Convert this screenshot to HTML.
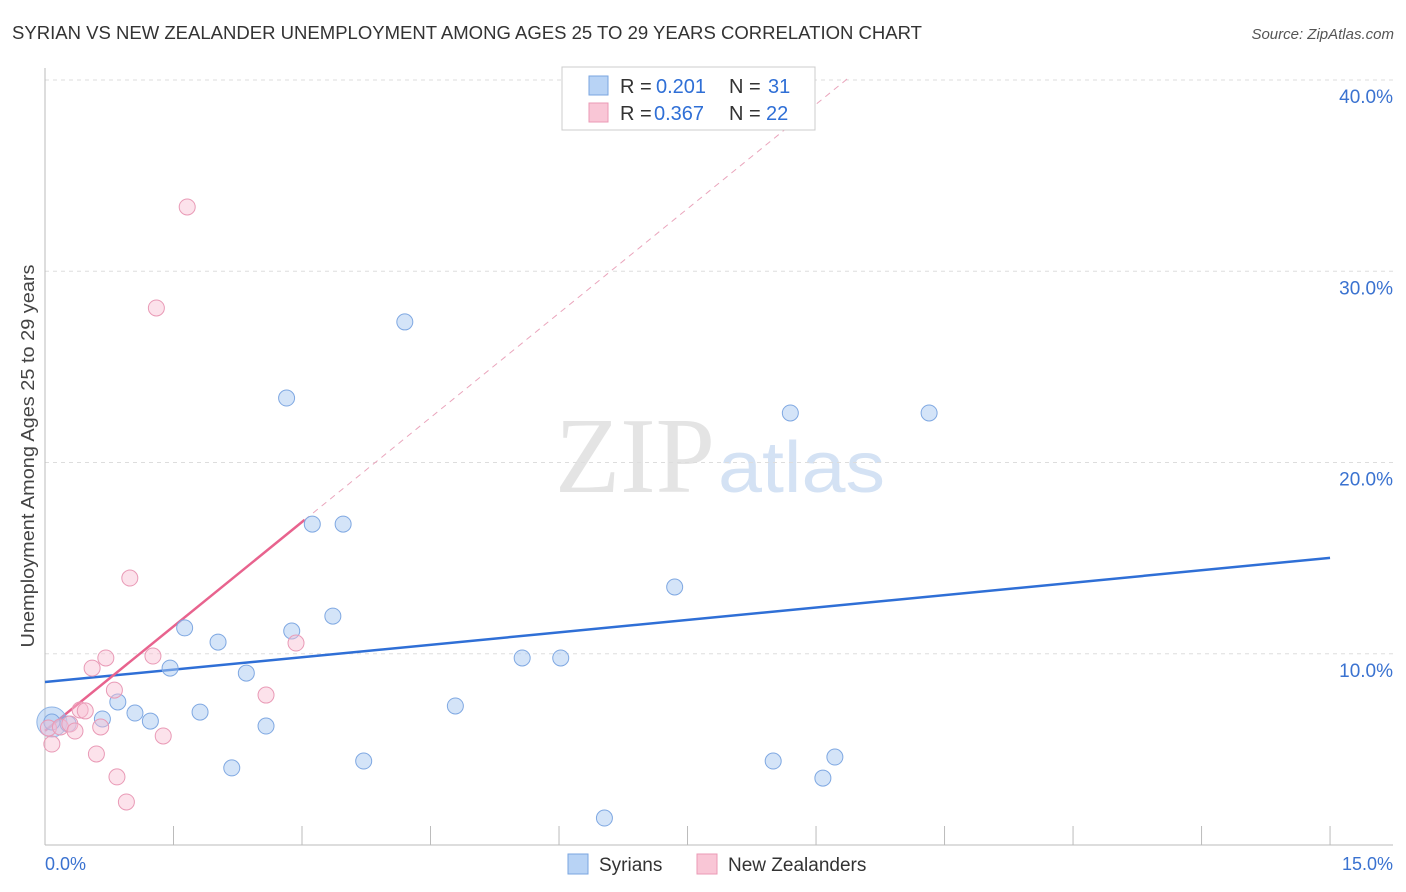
<!DOCTYPE html>
<html><head><meta charset="utf-8"><style>
body{margin:0;background:#fff;font-family:"Liberation Sans",sans-serif;}
</style></head><body>
<svg width="1406" height="892" style="position:absolute;left:0;top:0">
<text x="12" y="39" font-size="18" fill="#333" textLength="910" lengthAdjust="spacingAndGlyphs">SYRIAN VS NEW ZEALANDER UNEMPLOYMENT AMONG AGES 25 TO 29 YEARS CORRELATION CHART</text>
<text x="1394" y="39" font-size="15" fill="#555" font-style="italic" text-anchor="end">Source: ZipAtlas.com</text>
<text x="555" y="492" font-size="108" fill="#e4e4e4" textLength="160" lengthAdjust="spacingAndGlyphs" font-family="Liberation Serif">ZIP</text>
<text x="718" y="492" font-size="72" fill="#d4e2f4" textLength="167" lengthAdjust="spacingAndGlyphs">atlas</text>
<g id="grid"></g>
<line x1="45" y1="68" x2="45" y2="845" stroke="#bbb"/>
<line x1="45" y1="845" x2="1393" y2="845" stroke="#bbb"/>
<g id="xticks"></g>
<text x="34" y="456" font-size="18" fill="#444" text-anchor="middle" textLength="383" lengthAdjust="spacingAndGlyphs" transform="rotate(-90 34 456)">Unemployment Among Ages 25 to 29 years</text>
<text x="45" y="870" font-size="18" fill="#3a72d0">0.0%</text>
<text x="1393" y="870" font-size="18" fill="#3a72d0" text-anchor="end">15.0%</text>
<g id="trends"></g>
<g id="pts"></g>
<g>
<rect x="562" y="67" width="253" height="63" fill="#fff" stroke="#ccc"/>
<rect x="589" y="76" width="19" height="19" fill="#b8d3f5" stroke="#7aa6e0"/>
<rect x="589" y="103" width="19" height="19" fill="#f9c6d6" stroke="#eb9ab5"/>
<text x="620" y="93" font-size="20" fill="#333">R =</text>
<text x="656" y="93" font-size="20" fill="#2f6fd6">0.201</text>
<text x="729" y="93" font-size="20" fill="#333">N =</text>
<text x="768" y="93" font-size="20" fill="#2f6fd6">31</text>
<text x="620" y="120" font-size="20" fill="#333">R =</text>
<text x="654" y="120" font-size="20" fill="#2f6fd6">0.367</text>
<text x="729" y="120" font-size="20" fill="#333">N =</text>
<text x="766" y="120" font-size="20" fill="#2f6fd6">22</text>
</g>
<g>
<rect x="568" y="854" width="20" height="20" fill="#b8d3f5" stroke="#7aa6e0"/>
<text x="599" y="871" font-size="19" fill="#333">Syrians</text>
<rect x="697" y="854" width="20" height="20" fill="#f9c6d6" stroke="#eb9ab5"/>
<text x="728" y="871" font-size="19" fill="#333">New Zealanders</text>
</g>
</svg>
<script>
const yTicks=[10,20,30,40];
const xTickVals=[0,1.5,3,4.5,6,7.5,9,10.5,12,13.5,15];
const syrX=[0.08,0.27,0.67,0.85,1.05,1.23,1.46,1.63,1.81,2.02,2.18,2.35,2.58,2.82,2.88,3.12,3.36,3.48,3.72,4.20,4.79,5.57,6.02,6.53,7.35,8.50,8.70,9.08,9.22,10.32];
const syrY=[6.43,6.33,6.59,7.48,6.90,6.48,9.25,11.35,6.95,10.61,4.03,8.99,6.22,23.37,11.19,16.78,11.97,16.78,4.39,27.35,7.27,9.78,9.78,1.41,13.49,4.39,22.59,3.50,4.60,22.59];
const nzX=[0.04,0.08,0.18,0.29,0.35,0.41,0.47,0.55,0.60,0.65,0.71,0.81,0.84,0.95,0.99,1.26,1.30,1.38,1.66,2.58,2.93];
const nzY=[6.12,5.28,6.17,6.33,5.96,7.06,7.01,9.25,4.76,6.17,9.78,8.10,3.56,2.25,13.96,9.88,28.08,5.70,33.36,7.84,10.56];
const syrTrend=[8.52,0.433];
const nzTrend=[5.97,3.64];
const sx=v=>45+v*85.67, sy=v=>845-v*19.125;
const NS='http://www.w3.org/2000/svg';
function mk(t,a,p){const e=document.createElementNS(NS,t);for(const k in a)e.setAttribute(k,a[k]);p.appendChild(e);return e;}
const g=document.getElementById('grid');
yTicks.forEach(t=>{
 const l=mk('line',{x1:45,x2:1393,y1:sy(t),y2:sy(t),stroke:'#ddd','stroke-dasharray':'4,4'},g);
 
 
 const tx=mk('text',{x:1393,y:sy(t)+23,'font-size':19,fill:'#3a72d0','text-anchor':'end'},g);
 tx.textContent=t.toFixed(1)+'%';
 
 
});
const xt=document.getElementById('xticks');
xTickVals.forEach(v=>{
 const l=mk('line',{x1:sx(v),x2:sx(v),y1:826,y2:845,stroke:'#bbb'},xt);
 
 
});
const tr=document.getElementById('trends');
let l1=mk('line',{x1:sx(0),y1:sy(syrTrend[0]),x2:sx(15),y2:sy(syrTrend[0]+15*syrTrend[1]),stroke:'#2f6fd6','stroke-width':2.5},tr);


const xe=3.03, xd=(40-nzTrend[0])/nzTrend[1];
let l2=mk('line',{x1:sx(0),y1:sy(nzTrend[0]),x2:sx(xe),y2:sy(nzTrend[0]+xe*nzTrend[1]),stroke:'#e8638e','stroke-width':2.5},tr);


let l3=mk('line',{x1:sx(xe),y1:sy(nzTrend[0]+xe*nzTrend[1]),x2:sx(xd+0.05),y2:sy(nzTrend[0]+(xd+0.05)*nzTrend[1]),stroke:'#eaa5bc','stroke-width':1,'stroke-dasharray':'6,5'},tr);


const pg=document.getElementById('pts');
const big=mk('circle',{cx:sx(0.08),cy:sy(6.43),r:15,fill:'rgba(160,196,240,0.5)',stroke:'#8fb4e6'},pg);


syrX.forEach((x,i)=>{
 const c=mk('circle',{cx:sx(x),cy:sy(syrY[i]),r:8,fill:'rgba(170,202,242,0.5)',stroke:'#7fa8e2','stroke-width':1},pg);
 
 
});
nzX.forEach((x,i)=>{
 const c=mk('circle',{cx:sx(x),cy:sy(nzY[i]),r:8,fill:'rgba(248,190,210,0.45)',stroke:'#e99ab6','stroke-width':1},pg);
 
 
});
</script>
</body></html>
